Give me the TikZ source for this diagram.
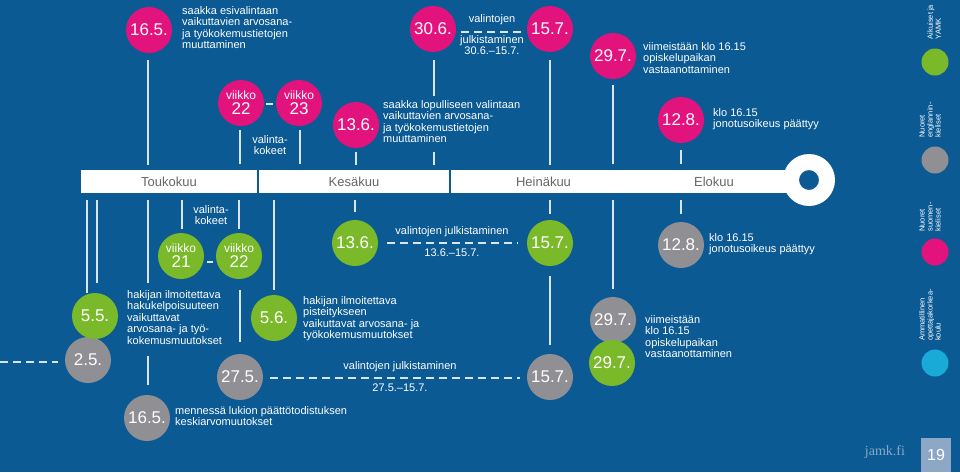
\documentclass[tikz,border=0pt]{standalone}
\usepackage{fontspec}
\setmainfont{Liberation Sans}
\setsansfont{Liberation Sans}
\definecolor{bg}{HTML}{0B5A94}
\definecolor{mag}{HTML}{E2137C}
\definecolor{grn}{HTML}{7AB929}
\definecolor{gry}{HTML}{8F8F94}
\definecolor{cyn}{HTML}{1AAAD8}
\definecolor{pg}{HTML}{8CA8C6}
\tikzset{
 circ/.style={circle,minimum size=46pt,inner sep=0pt,text=white,font=\fontsize{17}{17}\selectfont},
 cmag/.style={circ,fill=mag}, cgrn/.style={circ,fill=grn}, cgry/.style={circ,fill=gry},
 txt/.style={anchor=north west,align=left,text=white,inner sep=0pt,font=\fontsize{11}{11.6}\selectfont},
 ctxt/.style={align=center,text=white,inner sep=0pt,font=\fontsize{11}{11.6}\selectfont},
 ln/.style={draw=white!85!bg,line width=1.2pt},
 dsh/.style={draw=white!85!bg,line width=1.2pt,dash pattern=on 8pt off 5pt},
 month/.style={fill=white,minimum height=23pt,inner sep=0pt,text=black!60,font=\fontsize{13}{13}\selectfont},
 leg/.style={rotate=90,align=left,text=white,inner sep=0pt,font=\fontsize{7.5}{8}\selectfont,anchor=south},
 lc/.style={circle,minimum size=27pt,inner sep=0pt}
}
\newcommand{\vk}[1]{{\fontsize{12}{12}\selectfont viikko}\\[-1pt]#1}
\begin{document}
\begin{tikzpicture}[x=1pt,y=-1pt]
\fill[bg] (0,0) rectangle (960,472);
\useasboundingbox (0,0) rectangle (960,472);
% timeline
\node[month,minimum width=176pt] (tk) at (169,181.5) {Toukokuu};
\node[month,minimum width=190pt] (ke) at (354,181.5) {Kesäkuu};
\node[month,minimum width=185pt] (he) at (543.5,181.5) {Heinäkuu};
\node[month,minimum width=160pt] (el) at (714,181.5) {Elokuu};
\fill[white,even odd rule] (809,180) circle (26) (809,180) circle (10);
% top (magenta)
\node[cmag] (a1) at (149,30) {16.5.};
\node[txt] (a1t) at (182,6) {saakka esivalintaan\\vaikuttavien arvosana-\\ja työkokemustietojen\\muuttaminen};
\node[cmag,align=center,font=\fontsize{17}{16}\selectfont] (a2) at (241,103) {\vk{22}};
\node[cmag,align=center,font=\fontsize{17}{16}\selectfont] (a3) at (299,103) {\vk{23}};
\draw[ln] (266,104) -- (273,104);
\node[ctxt] (a23t) at (270,145) {valinta-\\kokeet};
\node[cmag] (a4) at (356,125) {13.6.};
\node[txt] (a4t) at (383,100) {saakka lopulliseen valintaan\\vaikuttavien arvosana-\\ja työkokemustietojen\\muuttaminen};
\node[cmag] (a5) at (433,29) {30.6.};
\node[cmag] (a6) at (550,29) {15.7.};
\node[ctxt] (a56a) at (492,20) {valintojen};
\node[ctxt] (a56b) at (492,45) {julkistaminen\\30.6.–15.7.};
\draw[dsh] (461,32) -- (524,32);
\node[cmag] (a7) at (613,56) {29.7.};
\node[txt] (a7t) at (643,42) {viimeistään klo 16.15\\opiskelupaikan\\vastaanottaminen};
\node[cmag] (a8) at (681,120) {12.8.};
\node[txt] (a8t) at (713,108) {klo 16.15\\jonotusoikeus päättyy};
\draw[ln] (148,60) -- (148,165);
\draw[ln] (240,130) -- (240,164); \draw[ln] (300,130) -- (300,164);
\draw[ln] (356,152) -- (356,165);
\draw[ln] (434,60) -- (434,96); \draw[ln] (434,152) -- (434,165);
\draw[ln] (550,60) -- (550,165);
\draw[ln] (613,85) -- (613,164);
\draw[ln] (681,150) -- (681,164);
% bottom
\draw[ln] (87,200) -- (87,293); \draw[ln] (97,200) -- (97,283);
\draw[dsh] (0,362) -- (58,362);
\node[cgry] (b1) at (88,360) {2.5.};
\node[cgrn] (b2) at (95,316) {5.5.};
\draw[ln] (148,200) -- (148,283); \draw[ln] (148,356) -- (148,385);
\node[cgry] (b3) at (147,418) {16.5.};
\node[txt] (b3t) at (175,406) {mennessä lukion päättötodistuksen\\keskiarvomuutokset};
\draw[ln] (182,200) -- (182,229); \draw[ln] (239,200) -- (239,229);
\node[ctxt] (b45t) at (211,215) {valinta-\\kokeet};
\node[cgrn,align=center,font=\fontsize{17}{16}\selectfont] (b4) at (181,256) {\vk{21}};
\node[cgrn,align=center,font=\fontsize{17}{16}\selectfont] (b5) at (239,256) {\vk{22}};
\draw[ln] (207,262) -- (213,262);
\node[txt] (b2t) at (127,290) {hakijan ilmoitettava\\hakukelpoisuuteen\\vaikuttavat\\arvosana- ja työ-\\kokemusmuutokset};
\draw[ln] (240,290) -- (240,342);
\draw[ln] (274,200) -- (274,290);
\node[cgrn] (b6) at (274,318) {5.6.};
\node[txt] (b6t) at (303,296) {hakijan ilmoitettava\\pisteitykseen\\vaikuttavat arvosana- ja\\työkokemusmuutokset};
\node[cgry] (b7) at (240,377) {27.5.};
\draw[dsh] (270,378) -- (520,378);
\node[ctxt] (b7a) at (400,367) {valintojen julkistaminen};
\node[ctxt] (b7b) at (400,388) {27.5.–15.7.};
\draw[ln] (355,200) -- (355,212);
\node[cgrn] (b8) at (355,243) {13.6.};
\draw[dsh] (387,243) -- (518,243);
\node[ctxt] (b8a) at (452,232) {valintojen julkistaminen};
\node[ctxt] (b8b) at (452,253) {13.6.–15.7.};
\draw[ln] (550,200) -- (550,214); \draw[ln] (550,276) -- (550,345);
\node[cgrn] (b9) at (550,243) {15.7.};
\node[cgry] (b10) at (550,377) {15.7.};
\draw[ln] (613,200) -- (613,289);
\node[cgry] (b11) at (613,320) {29.7.};
\node[cgrn] (b12) at (612,363) {29.7.};
\node[txt] (b11t) at (645,315) {viimeistään\\klo 16.15\\opiskelupaikan\\vastaanottaminen};
\draw[ln] (681,200) -- (681,214);
\node[cgry] (b13) at (681,245) {12.8.};
\node[txt] (b13t) at (709,233) {klo 16.15\\jonotusoikeus päättyy};
% legend
\node[leg] (l1t) at (941,22) {Aikuiset ja\\YAMK};
\node[lc,fill=grn] (l1) at (935,62) {};
\node[leg] (l2t) at (941,120) {Nuoret\\englannin-\\kieliset};
\node[lc,fill=gry] (l2) at (935,160) {};
\node[leg] (l3t) at (941,217) {Nuoret\\suomen-\\kieliset};
\node[lc,fill=mag] (l3) at (935,252) {};
\node[leg] (l4t) at (941,315) {Ammatillinen\\opettajakorkea-\\koulu};
\node[lc,fill=cyn] (l4) at (935,363) {};
% footer
\node[text=pg,font=\fontspec{Liberation Serif}\fontsize{14}{14}\selectfont,inner sep=0pt] (jf) at (885,452) {jamk.fi};
\node[fill=pg,minimum width=30pt,minimum height=34pt,inner sep=0pt,text=white,font=\fontsize{16}{16}\selectfont] (pn) at (936,455) {19};
\end{tikzpicture}
\end{document}
